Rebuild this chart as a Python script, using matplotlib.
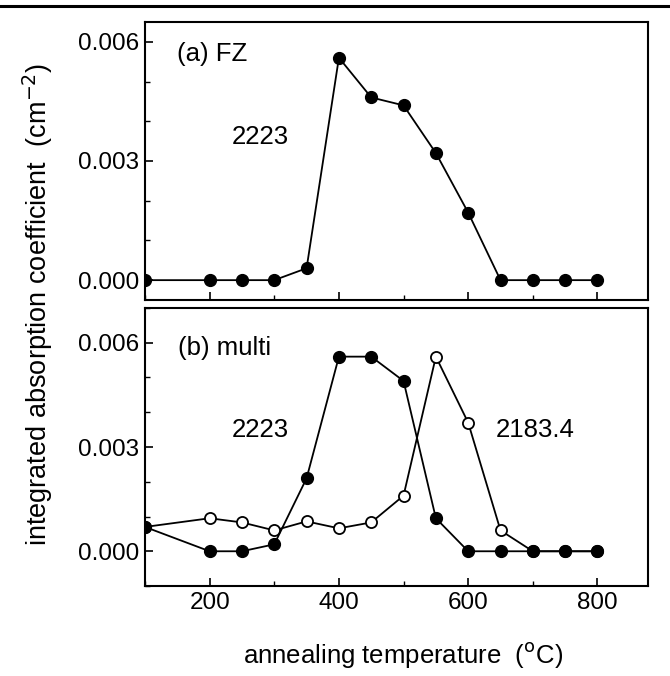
import matplotlib
matplotlib.use("Agg")
import matplotlib.pyplot as plt
from matplotlib.lines import Line2D
from matplotlib.ticker import MultipleLocator, FixedLocator

plt.rcParams['font.family'] = ['Liberation Sans', 'DejaVu Sans']

# Data
temps_fz = [100, 200, 250, 300, 350, 400, 450, 500, 550, 600, 650, 700, 750, 800]
fz_2223 = [0.0, 0.0, 0.0, 0.0, 0.0003, 0.0056, 0.0046, 0.0044, 0.0032, 0.0017, 0.0, 0.0, 0.0, 0.0]

temps_multi = [100, 200, 250, 300, 350, 400, 450, 500, 550, 600, 650, 700, 750, 800]
multi_2223 = [0.0007, 0.0, 0.0, 0.0002, 0.0021, 0.0056, 0.0056, 0.0049, 0.00095, 0.0, 0.0, 0.0, 0.0, 0.0]
multi_2183 = [0.0007, 0.00095, 0.00083, 0.0006, 0.00086, 0.00066, 0.00083, 0.0016, 0.0056, 0.0037, 0.0006, 0.0, 0.0, 0.0]

xticks = [200, 400, 600, 800]

fig = plt.figure(figsize=(6.7, 6.76), dpi=100)
ax1 = fig.add_axes([0.2164, 0.5562, 0.7506, 0.4113])
ax2 = fig.add_axes([0.2164, 0.1331, 0.7506, 0.4113])

FS = 17.5
LFS = 18.5

for ax in (ax1, ax2):
    ax.set_xlim(100, 878)
    ax.xaxis.set_major_locator(FixedLocator(xticks))
    ax.xaxis.set_minor_locator(MultipleLocator(100))
    ax.yaxis.set_major_locator(MultipleLocator(0.003))
    ax.yaxis.set_minor_locator(MultipleLocator(0.001))
    ax.tick_params(which='major', direction='in', length=6, width=1.2, labelsize=FS,
                   top=False, right=False, pad=4)
    ax.tick_params(which='minor', direction='in', length=3.5, width=1.0,
                   top=False, right=False)
    for s in ax.spines.values():
        s.set_linewidth(1.5)
    ax.yaxis.set_major_formatter(plt.FuncFormatter(lambda v, p: f"{v:.3f}"))

ax1.set_ylim(-0.0005, 0.0065)
ax2.set_ylim(-0.001, 0.007)
ax1.tick_params(labelbottom=False)

ax1.plot(temps_fz, fz_2223, '-o', color='black', lw=1.3, ms=8.5,
         mfc='black', mec='black', clip_on=True, zorder=3)

ax2.plot(temps_multi, multi_2183, '-o', color='black', lw=1.3, ms=8,
         mfc='white', mec='black', mew=1.3, zorder=3)
ax2.plot(temps_multi, multi_2223, '-o', color='black', lw=1.3, ms=8.5,
         mfc='black', mec='black', zorder=4)

ax1.text(0.064, 0.885, "(a) FZ", transform=ax1.transAxes, fontsize=LFS, va='center')
ax1.text(0.172, 0.585, "2223", transform=ax1.transAxes, fontsize=LFS, va='center')
ax2.text(0.066, 0.855, "(b) multi", transform=ax2.transAxes, fontsize=LFS, va='center')
ax2.text(0.172, 0.56, "2223", transform=ax2.transAxes, fontsize=LFS, va='center')
ax2.text(0.697, 0.56, "2183.4", transform=ax2.transAxes, fontsize=LFS, va='center')

fig.text(0.601, 0.031, "annealing temperature  ($^{\\rm o}$C)", fontsize=LFS,
         ha='center', va='center')
fig.text(0.057, 0.55, "integrated absorption coefficient  (cm$^{-2}$)",
         rotation=90, fontsize=19.5, ha='center', va='center')

fig.add_artist(Line2D([0, 1], [1 - 5.5/676, 1 - 5.5/676], transform=fig.transFigure,
                      color='black', lw=2.2))

fig.savefig("out.png", dpi=100)
